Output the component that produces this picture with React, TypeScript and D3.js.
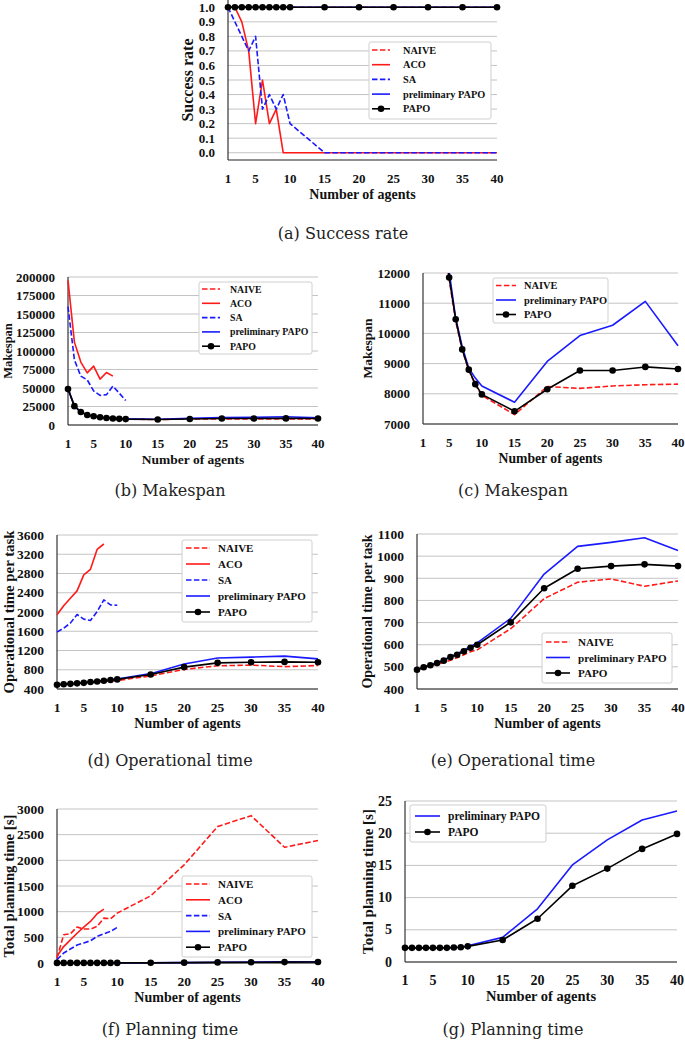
import React from 'react';
import * as d3 from 'd3';

// ---------- shared x values ----------
const X_ALL = [1, 2, 3, 4, 5, 6, 7, 8, 9, 10, 15, 20, 25, 30, 35, 40];
const X_ACO = [1, 2, 3, 4, 5, 6, 7, 8];
const X_SA = [1, 2, 3, 4, 5, 6, 7, 8, 9, 10];
const X_TICKS = [1, 5, 10, 15, 20, 25, 30, 35, 40];

// ---------- (a) success rate ----------
const srNaive = [1, 1, 1, 1, 1, 1, 1, 1, 1, 1, 1, 1, 1, 1, 1, 1];
const srAco = [1, 1, 0.9, 0.7, 0.2, 0.5, 0.2, 0.3, 0, 0, 0, 0, 0, 0, 0, 0];
const srSa = [1, 0.9, 0.8, 0.7, 0.8, 0.3, 0.4, 0.3, 0.4, 0.2, 0, 0, 0, 0, 0, 0];
const srPrelim = [1, 1, 1, 1, 1, 1, 1, 1, 1, 1, 1, 1, 1, 1, 1, 1];
const srPapo = [1, 1, 1, 1, 1, 1, 1, 1, 1, 1, 1, 1, 1, 1, 1, 1];
const srTicks = [0, 0.1, 0.2, 0.3, 0.4, 0.5, 0.6, 0.7, 0.8, 0.9, 1.0];

// ---------- (b)(c) makespan ----------
const msNaive = [49000, 25500, 17500, 13500, 11800, 10400, 9450, 8780, 8300, 7950, 7310, 8240, 8180, 8260, 8300, 8320];
const msAco = [195500, 112000, 85000, 70500, 79500, 62000, 71000, 66000];
const msSa = [160000, 88000, 66000, 61000, 46000, 40000, 41000, 52500, 43000, 33000];
const msPrelim = [49500, 25800, 17700, 13700, 12050, 10500, 9560, 8850, 8520, 8260, 7720, 9070, 9930, 10270, 11060, 9590];
const msPapo = [48500, 25500, 17500, 13500, 11850, 10470, 9470, 8800, 8320, 7980, 7420, 8150, 8770, 8770, 8890, 8820];
const msTicksB = [0, 25000, 50000, 75000, 100000, 125000, 150000, 175000, 200000];
const msTicksC = [7000, 8000, 9000, 10000, 11000, 12000];

// ---------- (d)(e) operational time ----------
const otNaive = [487, 497, 505, 512, 520, 530, 541, 555, 568, 577, 672, 808, 882, 897, 864, 888];
const otAco = [1941, 2128, 2287, 2439, 2771, 2888, 3303, 3413];
const otSa = [1582, 1665, 1769, 1948, 1852, 1824, 2010, 2252, 2148, 2141];
const otPrelim = [487, 498, 508, 519, 531, 547, 559, 575, 592, 608, 719, 919, 1044, 1062, 1083, 1025];
const otPapo = [487, 498, 507, 517, 528, 544, 555, 570, 586, 600, 701, 855, 943, 955, 963, 955];
const otTicksD = [400, 800, 1200, 1600, 2000, 2400, 2800, 3200, 3600];
const otTicksE = [400, 500, 600, 700, 800, 900, 1000, 1100];

// ---------- (f)(g) planning time ----------
const ptNaive = [97, 551, 570, 700, 661, 661, 713, 875, 862, 972, 1309, 1912, 2657, 2870, 2255, 2385];
const ptAco = [130, 320, 450, 580, 700, 810, 960, 1050];
const ptSa = [65, 195, 272, 350, 389, 434, 518, 570, 616, 693];
const ptPrelim = [2.2, 2.2, 2.2, 2.2, 2.2, 2.2, 2.2, 2.25, 2.3, 2.53, 3.82, 8.26, 15.08, 18.96, 22.06, 23.45];
const ptPapo = [2.2, 2.2, 2.2, 2.2, 2.2, 2.2, 2.2, 2.25, 2.3, 2.43, 3.41, 6.71, 11.83, 14.5, 17.56, 19.89];
const ptTicksF = [0, 500, 1000, 1500, 2000, 2500, 3000];
const ptTicksG = [0, 5, 10, 15, 20, 25];

// ---------- styles ----------
const STYLE: Record<string, { color: string; dashed: boolean; marker: boolean }> = {
  NAIVE: { color: '#ff1a1a', dashed: true, marker: false },
  ACO: { color: '#ff1a1a', dashed: false, marker: false },
  SA: { color: '#1a1aff', dashed: true, marker: false },
  'preliminary PAPO': { color: '#1a1aff', dashed: false, marker: false },
  PAPO: { color: '#000000', dashed: false, marker: true },
};

type S = { name: string; x: number[]; y: number[] };
type Leg = { x: number; y: number; w: number; h: number; first: number; step: number; l0: number; l1: number; tx: number; fs: number };
type Panel = {
  id: string;
  left: number; right: number; top: number; bottom: number;
  yDomain: [number, number];
  yTicks: number[];
  yFmt: (v: number) => string;
  yTitle: string; yTitleX: number; yTitleFs: number;
  tickFs: number; xTitleFs: number;
  series: S[];
  legend: Leg;
  caption: string; capX: number; capY: number;
};

const FIVE = (n: number[], a: number[], s: number[], p: number[], q: number[]): S[] => [
  { name: 'NAIVE', x: X_ALL, y: n },
  { name: 'ACO', x: X_ACO.length === a.length ? X_ACO : X_ALL, y: a },
  { name: 'SA', x: X_SA.length === s.length ? X_SA : X_ALL, y: s },
  { name: 'preliminary PAPO', x: X_ALL, y: p },
  { name: 'PAPO', x: X_ALL, y: q },
];

const fmtInt = (v: number) => String(v);

const PANELS: Panel[] = [
  {
    id: 'a', left: 228, right: 497, top: 0, bottom: 160, yDomain: [-0.05, 1.05], yTicks: srTicks,
    yFmt: d3.format('.1f'), yTitle: 'Success rate', yTitleX: 187, yTitleFs: 16, tickFs: 13, xTitleFs: 14,
    series: FIVE(srNaive, srAco, srSa, srPrelim, srPapo),
    legend: { x: 369, y: 42, w: 122, h: 77, first: 8, step: 14.7, l0: 3, l1: 21, tx: 34, fs: 10.3 },
    caption: '(a) Success rate', capX: 343, capY: 239,
  },
  {
    id: 'b', left: 68, right: 318, top: 277, bottom: 425, yDomain: [0, 200000], yTicks: msTicksB,
    yFmt: fmtInt, yTitle: 'Makespan', yTitleX: 8, yTitleFs: 12.5, tickFs: 13, xTitleFs: 13.5,
    series: FIVE(msNaive, msAco, msSa, msPrelim, msPapo),
    legend: { x: 199, y: 282, w: 113, h: 72, first: 7, step: 14.3, l0: 3, l1: 21, tx: 31, fs: 9.8 },
    caption: '(b) Makespan', capX: 170, capY: 496,
  },
  {
    id: 'c', left: 423, right: 678, top: 273, bottom: 424, yDomain: [7000, 12000], yTicks: msTicksC,
    yFmt: fmtInt, yTitle: 'Makespan', yTitleX: 367, yTitleFs: 13.5, tickFs: 13, xTitleFs: 13.7,
    series: [
      { name: 'NAIVE', x: X_ALL, y: msNaive },
      { name: 'preliminary PAPO', x: X_ALL, y: msPrelim },
      { name: 'PAPO', x: X_ALL, y: msPapo },
    ],
    legend: { x: 493, y: 278, w: 115, h: 45, first: 7.5, step: 14.5, l0: 3, l1: 23, tx: 31, fs: 10.4 },
    caption: '(c) Makespan', capX: 513, capY: 496,
  },
  {
    id: 'd', left: 57, right: 318, top: 535, bottom: 689, yDomain: [400, 3600], yTicks: otTicksD,
    yFmt: fmtInt, yTitle: 'Operational time per task', yTitleX: 8.5, yTitleFs: 14.8, tickFs: 13.5, xTitleFs: 14,
    series: FIVE(otNaive, otAco, otSa, otPrelim, otPapo),
    legend: { x: 182, y: 540, w: 130, h: 82, first: 8, step: 16, l0: 4, l1: 28, tx: 36, fs: 11 },
    caption: '(d) Operational time', capX: 170, capY: 766,
  },
  {
    id: 'e', left: 417, right: 678, top: 534, bottom: 689, yDomain: [400, 1100], yTicks: otTicksE,
    yFmt: fmtInt, yTitle: 'Operational time per task', yTitleX: 367, yTitleFs: 14, tickFs: 13.5, xTitleFs: 14,
    series: [
      { name: 'NAIVE', x: X_ALL, y: otNaive },
      { name: 'preliminary PAPO', x: X_ALL, y: otPrelim },
      { name: 'PAPO', x: X_ALL, y: otPapo },
    ],
    legend: { x: 542, y: 633, w: 130, h: 50, first: 9, step: 15.5, l0: 4, l1: 28, tx: 36, fs: 11.1 },
    caption: '(e) Operational time', capX: 513, capY: 766,
  },
  {
    id: 'f', left: 57, right: 318, top: 809, bottom: 963, yDomain: [0, 3000], yTicks: ptTicksF,
    yFmt: fmtInt, yTitle: 'Total planning time [s]', yTitleX: 8.5, yTitleFs: 14.8, tickFs: 13.5, xTitleFs: 14,
    series: FIVE(ptNaive, ptAco, ptSa, ptPrelim, ptPapo),
    legend: { x: 182, y: 876, w: 130, h: 81, first: 8, step: 15.8, l0: 4, l1: 28, tx: 36, fs: 11 },
    caption: '(f) Planning time', capX: 170, capY: 1035,
  },
  {
    id: 'g', left: 405, right: 677, top: 801, bottom: 962, yDomain: [0, 25], yTicks: ptTicksG,
    yFmt: fmtInt, yTitle: 'Total planning time [s]', yTitleX: 368, yTitleFs: 15, tickFs: 14, xTitleFs: 14.5,
    series: [
      { name: 'preliminary PAPO', x: X_ALL, y: ptPrelim },
      { name: 'PAPO', x: X_ALL, y: ptPapo },
    ],
    legend: { x: 410, y: 805, w: 136, h: 37, first: 11, step: 16, l0: 5, l1: 30, tx: 38, fs: 11.5 },
    caption: '(g) Planning time', capX: 513, capY: 1035,
  },
];

const FONT = "'Liberation Serif', 'Times New Roman', serif";
const CAP_FONT = "'DejaVu Serif', serif";
const DASH = '5.5,2.4';

function PanelView({ p }: { p: Panel }) {
  const x = d3.scaleLinear().domain([1, 40]).range([p.left, p.right]);
  const y = d3.scaleLinear().domain(p.yDomain).range([p.bottom, p.top]);
  const clipId = `clip-${p.id}`;
  const line = (s: S) =>
    d3.line<number>().x((_, i) => x(s.x[i])).y((v) => y(v))(s.y) || '';
  const midY = (p.top + p.bottom) / 2;
  const L = p.legend;
  return (
    <g>
      <defs>
        <clipPath id={clipId}>
          <rect x={p.left - 8} y={p.top} width={p.right - p.left + 16} height={p.bottom - p.top + 10} />
        </clipPath>
      </defs>
      {p.yTicks.map((t) => (
        <line key={`g${t}`} x1={p.left} x2={p.right} y1={y(t)} y2={y(t)} stroke="#c4c4c4" strokeWidth={1} />
      ))}
      {p.yTicks.map((t) => (
        <text key={`yt${t}`} x={p.left - 13} y={y(t)} textAnchor="end" dominantBaseline="central"
          fontFamily={FONT} fontWeight="bold" fontSize={p.tickFs} fill="#111">{p.yFmt(t)}</text>
      ))}
      {X_TICKS.map((t) => (
        <text key={`xt${t}`} x={x(t)} y={p.bottom + 22.5} textAnchor="middle"
          fontFamily={FONT} fontWeight="bold" fontSize={p.tickFs} fill="#111">{t}</text>
      ))}
      <line x1={p.left} x2={p.left} y1={p.top} y2={p.bottom} stroke="#222" strokeWidth={1.1} />
      <line x1={p.left} x2={p.right} y1={p.bottom} y2={p.bottom} stroke="#222" strokeWidth={1.1} />
      <g clipPath={`url(#${clipId})`}>
        {p.series.map((s) => {
          const st = STYLE[s.name];
          return (
            <g key={s.name}>
              <path d={line(s)} fill="none" stroke={st.color} strokeWidth={1.6}
                strokeDasharray={st.dashed ? DASH : undefined} strokeLinejoin="round" />
              {st.marker && s.y.map((v, i) => (
                <circle key={i} cx={x(s.x[i])} cy={y(v)} r={3.3} fill={st.color} />
              ))}
            </g>
          );
        })}
      </g>
      <text x={(p.left + p.right) / 2} y={p.bottom + 38.5} textAnchor="middle"
        fontFamily={FONT} fontWeight="bold" fontSize={p.xTitleFs} fill="#111">Number of agents</text>
      <text transform={`translate(${p.yTitleX},${midY}) rotate(-90)`} textAnchor="middle" dominantBaseline="central"
        fontFamily={FONT} fontWeight="bold" fontSize={p.yTitleFs} fill="#111">{p.yTitle}</text>
      <rect x={L.x} y={L.y} width={L.w} height={L.h} rx={2} fill="#fff" stroke="#cfcfcf" strokeWidth={1} />
      {p.series.map((s, i) => {
        const st = STYLE[s.name];
        const cy = L.y + L.first + i * L.step;
        return (
          <g key={`lg${s.name}`}>
            <line x1={L.x + L.l0} x2={L.x + L.l1} y1={cy} y2={cy} stroke={st.color} strokeWidth={1.6}
              strokeDasharray={st.dashed ? DASH : undefined} />
            {st.marker && <circle cx={L.x + (L.l0 + L.l1) / 2} cy={cy} r={3.3} fill={st.color} />}
            <text x={L.x + L.tx} y={cy} dominantBaseline="central" fontFamily={FONT} fontWeight="bold"
              fontSize={L.fs} fill="#111">{s.name}</text>
          </g>
        );
      })}
      <text x={p.capX} y={p.capY} textAnchor="middle" fontFamily={CAP_FONT} fontSize={16} fill="#222">{p.caption}</text>
    </g>
  );
}

export default function App() {
  return (
    <svg width={685} height={1046} style={{ position: 'absolute', left: 0, top: 0, background: '#fff' }}>
      <rect x={0} y={0} width={685} height={1046} fill="#fff" />
      {PANELS.map((p) => (
        <PanelView key={p.id} p={p} />
      ))}
    </svg>
  );
}
